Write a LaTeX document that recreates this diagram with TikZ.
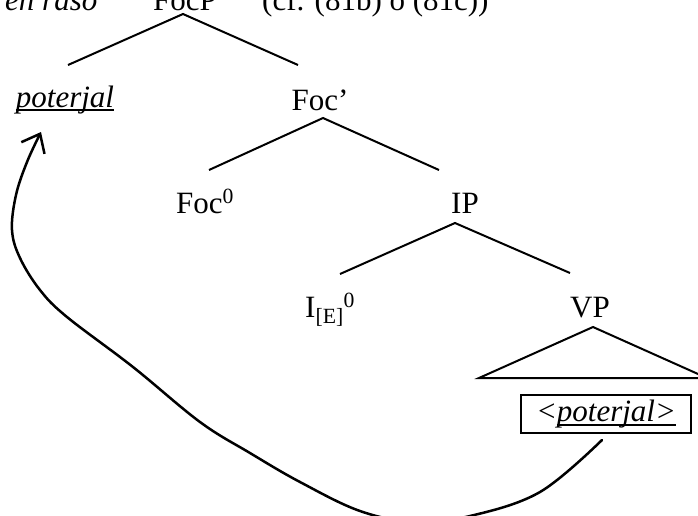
\documentclass[tikz,border=0pt]{standalone}
\usepackage{fontspec}
\setmainfont{Liberation Serif}
\usetikzlibrary{arrows.meta}
\newsavebox\ulbox
\newcommand\myul[1]{\sbox\ulbox{#1}\rlap{\rule[-0.14em]{\wd\ulbox}{0.06em}}\usebox\ulbox}
\begin{document}
\begin{tikzpicture}[x=1pt,y=-1pt,
  lbl/.style={inner sep=0pt, anchor=base, font=\fontsize{31}{36}\selectfont},
  edge/.style={line width=2pt},
  movearrow/.style={line width=2.5pt, line cap=round, -{Straight Barb[length=16pt,width=26pt,line width=2.5pt]}}]
\useasboundingbox (0,0) rectangle (698,515);
\clip (0,0) rectangle (698,515);
% labels
\node[lbl, anchor=base west] (enraso) at (5,10) {\textit{en raso}};
\node[lbl] (FocP) at (185,10) {FocP};
\node[lbl, anchor=base west] (cf) at (262,10) {(cf. (81b) o (81c))};
\node[lbl] (pot) at (65,107) {\myul{\textit{poterjal}}};
\node[lbl] (FocBar) at (320,110) {Foc’};
\node[lbl] (Foc0) at (205,213) {Foc\textsuperscript{0}};
\node[lbl] (IP) at (465,213) {IP};
\node[lbl, anchor=base west] (I0) at (305,317) {I\textsubscript{[E]}\textsuperscript{0}};
\node[lbl] (VP) at (590,317) {VP};
\node[lbl, anchor=center, draw, line width=2pt, minimum width=170pt, minimum height=38pt] (box) at (606,414) {\textit{<\myul{poterjal>}}};
% edge end points
\coordinate (FocP-a) at (183,14);
\coordinate (pot-t) at (68,65);
\coordinate (FocBar-t) at (298,65);
\coordinate (FocBar-a) at (323,118);
\coordinate (Foc0-t) at (209,170);
\coordinate (IP-t) at (439,170);
\coordinate (IP-a) at (455,223);
\coordinate (I0-t) at (340,274);
\coordinate (VP-t) at (570,273);
\coordinate (VP-a) at (593,327);
\coordinate (tri-l) at (479,378);
\coordinate (tri-r) at (707,378);
\draw[edge] (pot-t) -- (FocP-a) -- (FocBar-t);
\draw[edge] (Foc0-t) -- (FocBar-a) -- (IP-t);
\draw[edge] (I0-t) -- (IP-a) -- (VP-t);
\draw[edge, line join=miter] (tri-r) -- (VP-a) -- (tri-l) -- cycle;
% movement arrow
\coordinate (mv-s) at ([shift={(-4,6)}]box.south);
\coordinate (mv-e) at (41,132);
\draw[movearrow] plot[smooth, tension=0.6] coordinates {(mv-s) (540,492) (470,516) (415,522) (360,511) (300,482) (250,453) (200,422) (133,367) (67,317) (40,290) (20,258) (12,230) (16,195) (27,162) (mv-e)};
\end{tikzpicture}
\end{document}
